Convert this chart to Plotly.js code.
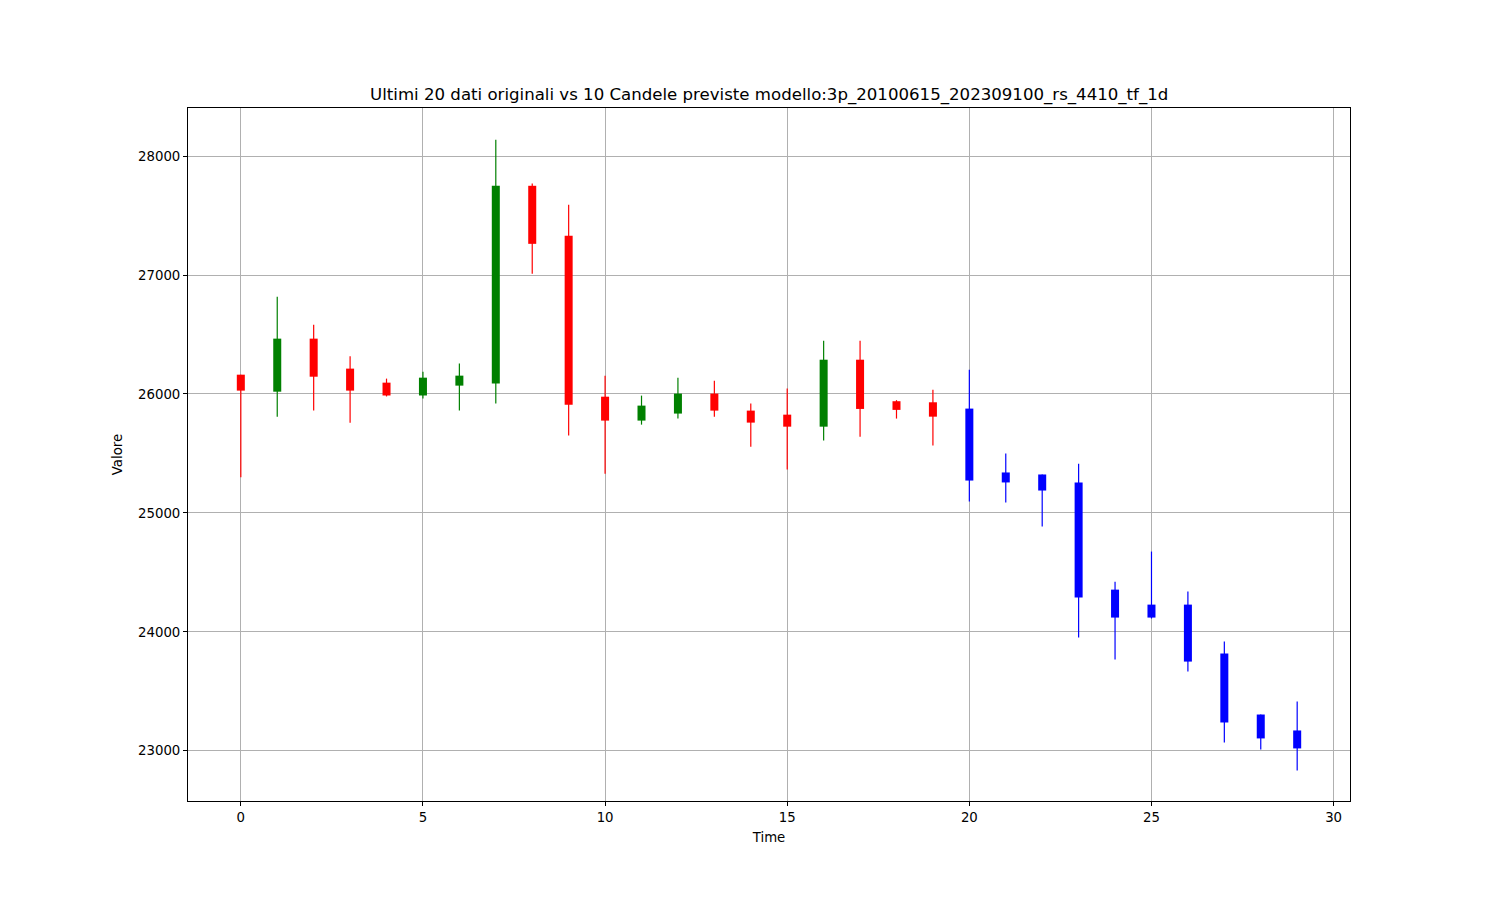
<!DOCTYPE html>
<html>
<head>
<meta charset="utf-8">
<script src="https://cdn.plot.ly/plotly-3.0.1.min.js"></script>
<style>html,body{margin:0;padding:0;background:#fff;}#chart{width:1500px;height:900px;}</style>
</head>
<body>
<div id="chart"></div>
<script>
// Original candles (time 0..19)
const origTime  = [0,1,2,3,4,5,6,7,8,9,10,11,12,13,14,15,16,17,18,19];
const origOpen  = [26162,26019,26465,26213,26095,25987,26070,26087,27750,27330,25977,25776,25835,26003,25860,25826,25725,26288,25939,25930];
const origHigh  = [26162,26818,26582,26316,26129,26187,26255,28137,27770,27591,26154,25986,26137,26112,25919,26045,26448,26448,25948,26036];
const origLow   = [25299,25809,25860,25757,25979,25961,25860,25919,27011,25650,25330,25742,25793,25809,25557,25364,25608,25641,25793,25566];
const origClose = [26028,26465,26145,26028,25987,26137,26154,27750,27262,25910,25776,25902,26003,25860,25759,25725,26288,25874,25866,25809];

// Predicted candles (time 20..29)
const predTime  = [20,21,22,23,24,25,26,27,28,29];
const predOpen  = [25877,25340,25323,25256,24355,24229,24229,23818,23305,23171];
const predHigh  = [26204,25499,25323,25414,24422,24675,24339,23919,23305,23414];
const predLow   = [25095,25087,24885,23952,23767,24112,23666,23070,23011,22835];
const predClose = [25272,25256,25188,24288,24120,24120,23750,23238,23104,23020];

const xTicks = [0,5,10,15,20,25,30];
const yTicks = [23000,24000,25000,26000,27000,28000];

const titleText = "Ultimi 20 dati originali vs 10 Candele previste modello:3p_20100615_202309100_rs_4410_tf_1d";

function groupTraces(t, o, h, l, c, color) {
  const wx = [], wy = [], bx = [], bb = [], bh = [];
  for (let i = 0; i < t.length; i++) {
    wx.push(t[i], t[i], null);
    wy.push(l[i], h[i], null);
    bx.push(t[i]);
    bb.push(Math.min(o[i], c[i]));
    bh.push(Math.abs(c[i] - o[i]));
  }
  return [
    {type:'scatter', mode:'lines', x:wx, y:wy, line:{color:color, width:1.2}, hoverinfo:'skip', showlegend:false},
    {type:'bar', x:bx, y:bh, base:bb, width:0.22, marker:{color:color, line:{width:0}}, hoverinfo:'skip', showlegend:false}
  ];
}

function split(cond) {
  const t=[],o=[],h=[],l=[],c=[];
  for (let i=0;i<origTime.length;i++) {
    if (cond(origOpen[i], origClose[i])) {
      t.push(origTime[i]); o.push(origOpen[i]); h.push(origHigh[i]); l.push(origLow[i]); c.push(origClose[i]);
    }
  }
  return [t,o,h,l,c];
}

const up = split((o,c)=>c>=o);
const down = split((o,c)=>c<o);

const data = [].concat(
  groupTraces(...up, '#008000'),
  groupTraces(...down, '#ff0000'),
  groupTraces(predTime, predOpen, predHigh, predLow, predClose, '#0000ff')
);

const font = {family:'DejaVu Sans, sans-serif', color:'#000', size:13.3};

const layout = {
  width:1500, height:900,
  paper_bgcolor:'#fff', plot_bgcolor:'#fff',
  margin:{l:188, r:150, t:108, b:99, pad:0},
  barmode:'overlay',
  showlegend:false,
  font:font,
  title:{text:titleText, x:0.5128, xanchor:'center', y:0.895, yanchor:'middle', font:{family:'DejaVu Sans, sans-serif', size:16.6, color:'#000'}},
  xaxis:{
    range:[-1.45, 30.45],
    tickvals:xTicks, ticktext:xTicks.map(String),
    showgrid:true, gridcolor:'#b0b0b0', gridwidth:1,
    zeroline:false,
    showline:true, mirror:true, linecolor:'#000', linewidth:1,
    ticks:'outside', ticklen:4, tickwidth:1, tickcolor:'#000',
    tickfont:font,
    title:{text:'Time', font:font, standoff:8}
  },
  yaxis:{
    range:[22578, 28404],
    tickvals:yTicks, ticktext:yTicks.map(String),
    showgrid:true, gridcolor:'#b0b0b0', gridwidth:1,
    zeroline:false,
    showline:true, mirror:true, linecolor:'#000', linewidth:1,
    ticks:'outside', ticklen:4, tickwidth:1, tickcolor:'#000',
    tickfont:font,
    title:{text:'Valore', font:font, standoff:12}
  }
};

Plotly.newPlot('chart', data, layout, {staticPlot:true, displayModeBar:false});
</script>
</body>
</html>
